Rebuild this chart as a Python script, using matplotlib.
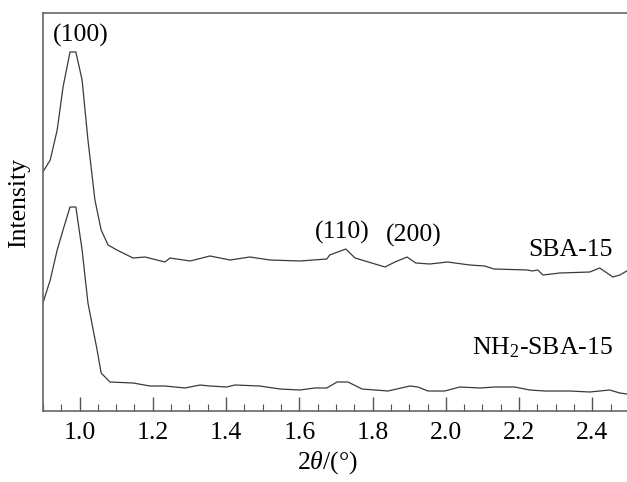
import matplotlib
matplotlib.use("Agg")
import matplotlib.pyplot as plt
from matplotlib.ticker import MultipleLocator

plt.rcParams['font.family'] = ['Liberation Serif', 'DejaVu Serif']
plt.rcParams['mathtext.fontset'] = 'custom'
plt.rcParams['mathtext.rm'] = 'Liberation Serif'
plt.rcParams['mathtext.it'] = 'Liberation Serif:italic'

# 2theta (deg) and intensity (a.u.)
sba_x = [0.900, 0.920, 0.939, 0.955, 0.974, 0.990, 1.007, 1.023, 1.042, 1.059, 1.078,
         1.102, 1.146, 1.179, 1.233, 1.247, 1.302, 1.356, 1.411, 1.465, 1.520, 1.602,
         1.675, 1.683, 1.727, 1.752, 1.834, 1.861, 1.894, 1.918, 1.956, 2.005, 2.065,
         2.106, 2.131, 2.224, 2.235, 2.251, 2.265, 2.311, 2.393, 2.420, 2.456, 2.475, 2.494]
sba_y = [239, 251, 281, 324, 359, 359, 331, 271, 211, 181, 166,
         161, 153, 154, 149, 153, 150, 155, 151, 154, 151, 150,
         152, 156, 162, 153, 144, 149, 154, 148, 147, 149, 146,
         145, 142, 141, 140, 141, 136, 138, 139, 143, 134, 136, 140]

nh2_x = [0.900, 0.920, 0.939, 0.955, 0.974, 0.990, 1.007, 1.023, 1.048, 1.059, 1.083,
         1.146, 1.192, 1.233, 1.288, 1.329, 1.356, 1.402, 1.424, 1.492, 1.547, 1.602,
         1.642, 1.675, 1.703, 1.733, 1.771, 1.842, 1.902, 1.924, 1.951, 1.997, 2.038,
         2.093, 2.134, 2.188, 2.229, 2.270, 2.338, 2.393, 2.447, 2.475, 2.494]
nh2_y = [108, 131, 161, 181, 204, 204, 161, 108, 61, 38, 29,
         28, 25, 25, 23, 26, 25, 24, 26, 25, 22, 21,
         23, 23, 29, 29, 22, 20, 25, 24, 20, 20, 24,
         23, 24, 24, 21, 20, 20, 19, 21, 18, 17]

peak_labels = ["(100)", "(110)", "(200)"]
peak_pos = [1.004, 1.716, 1.913]
peak_h = [376, 179, 176]

W, H = 627, 482
fig = plt.figure(figsize=(W / 100, H / 100), dpi=100)
ax = fig.add_axes([42.9 / W, 1 - 411 / H, (629 - 42.9) / W, (411 - 13) / H])

lc = '#3a3a3a'
ax.plot(sba_x, sba_y, color=lc, lw=0.9)
ax.plot(nh2_x, nh2_y, color=lc, lw=0.9)

ax.set_xlim(0.9, 2.5)
ax.set_ylim(0, 398)
ax.xaxis.set_major_locator(MultipleLocator(0.2))
ax.xaxis.set_minor_locator(MultipleLocator(0.05))
ax.xaxis.set_major_formatter(matplotlib.ticker.FormatStrFormatter('%.1f'))
ax.tick_params(axis='x', which='major', direction='in', length=10, width=1, color='#555555',
               labelsize=18.5, pad=8)
ax.tick_params(axis='x', which='minor', direction='in', length=5, width=0.8, color='#555555')
ax.set_yticks([])
for s in ax.spines.values():
    s.set_color('#666666')
    s.set_linewidth(1.2)
ax.spines['right'].set_visible(False)

fs = 18.5
for lab, x, y in zip(peak_labels, peak_pos, peak_h):
    ax.text(x, y, lab, ha='center', va='center', fontsize=fs)
ax.text(2.456, 161, "SBA-15", ha='right', va='center', fontsize=fs)
ax.text(2.456, 63, "NH$_2$-SBA-15", ha='right', va='center', fontsize=fs)

fig.text(327 / W, 1 - 463 / H, r"2$\it{\theta}$/(°)", ha='center', va='center', fontsize=fs)
fig.text(19 / W, 1 - 203 / H, "Intensity", ha='center', va='center', rotation=90, fontsize=fs)

fig.savefig("out.png", dpi=100)
